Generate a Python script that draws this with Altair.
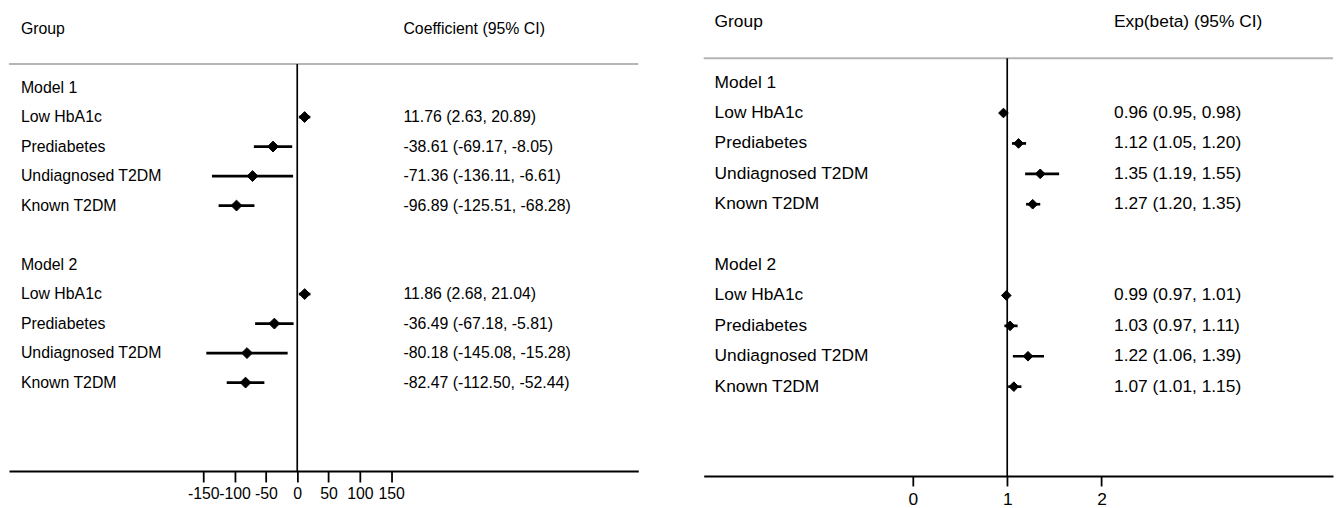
import altair as alt
import pandas as pd

FONT = "Liberation Sans"

# ---------------- data ----------------
groups = ["Low HbA1c", "Prediabetes", "Undiagnosed T2DM", "Known T2DM"]
models = ["Model 1", "Model 2"]

coef_m1 = [11.76, -38.61, -71.36, -96.89]
coef_m1_lo = [2.63, -69.17, -136.11, -125.51]
coef_m1_hi = [20.89, -8.05, -6.61, -68.28]
coef_m2 = [11.86, -36.49, -80.18, -82.47]
coef_m2_lo = [2.68, -67.18, -145.08, -112.50]
coef_m2_hi = [21.04, -5.81, -15.28, -52.44]

exp_m1 = [0.96, 1.12, 1.35, 1.27]
exp_m1_lo = [0.95, 1.05, 1.19, 1.20]
exp_m1_hi = [0.98, 1.20, 1.55, 1.35]
exp_m2 = [0.99, 1.03, 1.22, 1.07]
exp_m2_lo = [0.97, 0.97, 1.06, 1.01]
exp_m2_hi = [1.01, 1.11, 1.39, 1.15]

left_ticks = [-150, -100, -50, 0, 50, 100, 150]
right_ticks = [0, 1, 2]
group_header = "Group"
left_header = "Coefficient (95% CI)"
right_header = "Exp(beta) (95% CI)"

# ---------------- layout ----------------
HEADER_ROW = -2
SEP_ROW = -0.8
MODEL_GAP = 6


def build_frames(ests, los, his, header):
    text_rows = [{"k": HEADER_ROW, "label": group_header, "value": header}]
    est_rows = []
    for m, model in enumerate(models):
        base = m * MODEL_GAP
        text_rows.append({"k": base, "label": model, "value": ""})
        for i, g in enumerate(groups):
            e, lo, hi = ests[m][i], los[m][i], his[m][i]
            k = base + 1 + i
            text_rows.append({"k": k, "label": g,
                              "value": f"{e:.2f} ({lo:.2f}, {hi:.2f})"})
            est_rows.append({"k": k, "est": e, "lo": lo, "hi": hi})
    return pd.DataFrame(text_rows), pd.DataFrame(est_rows)


def panel(ests, los, his, header, ref, xdom, ticks, ydom, width, height,
          fs, label_x, value_x, tick_size, label_pad, dsize, lw):
    text_df, est_df = build_frames(ests, los, his, header)
    xs = alt.Scale(domain=xdom, nice=False, zero=False)
    ys = alt.Scale(domain=ydom, reverse=True, nice=False, zero=False)
    xaxis = alt.Axis(values=ticks, title=None, grid=False, domainColor="black",
                     domainWidth=2, tickColor="black", tickWidth=1.8,
                     tickSize=tick_size, labelFontSize=fs, labelFont=FONT,
                     labelColor="black", labelPadding=label_pad,
                     labelOverlap=False, labelFlush=False,
                     labelExpr="'' + datum.value")

    ref_df = pd.DataFrame({"ref": [ref], "k": [SEP_ROW]})
    sep = alt.Chart(ref_df).mark_rule(color="#b5b5b5", strokeWidth=2).encode(
        y=alt.Y("k:Q", scale=ys, axis=None),
        x=alt.value(0), x2=alt.value(width))
    refline = alt.Chart(ref_df).mark_rule(color="black", strokeWidth=1.7).encode(
        x=alt.X("ref:Q", scale=xs, axis=xaxis),
        y=alt.Y("k:Q", scale=ys, axis=None),
        y2=alt.value(height))
    ci = alt.Chart(est_df).mark_rule(color="black", strokeWidth=lw).encode(
        x=alt.X("lo:Q", scale=xs), x2="hi:Q",
        y=alt.Y("k:Q", scale=ys))
    pts = alt.Chart(est_df).mark_point(shape="diamond", filled=True, size=dsize,
                                       color="black", opacity=1,
                                       stroke="black", strokeWidth=1).encode(
        x=alt.X("est:Q", scale=xs), y=alt.Y("k:Q", scale=ys))
    labels = alt.Chart(text_df).mark_text(align="left", baseline="middle",
                                          fontSize=fs, font=FONT,
                                          color="black").encode(
        x=alt.value(label_x), y=alt.Y("k:Q", scale=ys), text="label:N")
    values = alt.Chart(text_df).mark_text(align="left", baseline="middle",
                                          fontSize=fs, font=FONT,
                                          color="black").encode(
        x=alt.value(value_x), y=alt.Y("k:Q", scale=ys), text="value:N")
    return alt.layer(sep, refline, ci, pts, labels, values).properties(
        width=width, height=height)


left = panel([coef_m1, coef_m2], [coef_m1_lo, coef_m2_lo],
             [coef_m1_hi, coef_m2_hi], left_header, 0,
             [-460.0, 544.3], left_ticks, [-2.62, 13.0], 635, 465,
             16, 12, 398, 11, 4, 120, 2.7)

right = panel([exp_m1, exp_m2], [exp_m1_lo, exp_m2_lo],
              [exp_m1_hi, exp_m2_hi], right_header, 1,
              [-2.217, 4.453], right_ticks, [-2.38, 12.94], 635, 470,
              17.5, 11, 414, 10, 5, 95, 2.7)

chart = alt.hconcat(left, right, spacing=64).properties(padding=0).configure_view(
    strokeWidth=0)

chart.save("out.html", embed_options={"renderer": "svg", "actions": False})
